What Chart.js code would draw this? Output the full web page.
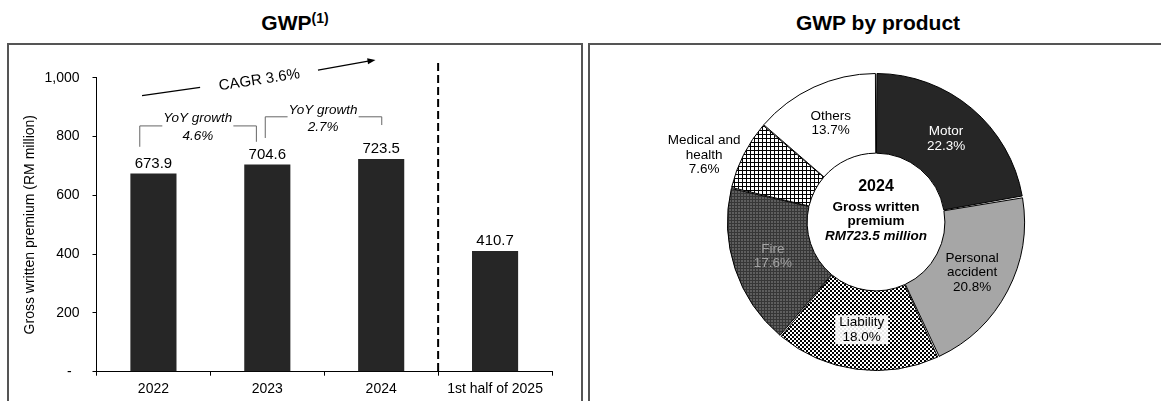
<!DOCTYPE html>
<html>
<head>
<meta charset="utf-8">
<script src="https://cdn.jsdelivr.net/npm/chart.js@4.4.1/dist/chart.umd.min.js"></script>
<style>
  body { margin: 0; background: #fff; width: 1161px; height: 401px; overflow: hidden; position: relative;
         font-family: Arial, "Liberation Sans", sans-serif; }
  .title { position: absolute; top: 11px; height: 24px; line-height: 24px; font-size: 21px; font-weight: bold;
           text-align: center; color: #000; }
  .title span { font-size: 14px; position: relative; top: -7px; }
  .panel { position: absolute; box-sizing: border-box; border: 2px solid #555; }
  canvas { position: absolute; }
</style>
</head>
<body>
<div class="title" style="left:7px; width:576px;">GWP<span>(1)</span></div>
<div class="title" style="left:588px; width:580px;">GWP by product</div>
<div class="panel" style="left:7px; top:43px; width:576px; height:400px;"></div>
<div class="panel" style="left:588px; top:43px; width:600px; height:400px;"></div>
<canvas id="gwp" width="572" height="355" style="left:9px; top:46px;"></canvas>
<canvas id="mix" width="571" height="355" style="left:590px; top:46px;"></canvas>
<script>
// left chart data
const years = ['2022', '2023', '2024', '1st half of 2025'];
const gwp = [673.9, 704.6, 723.5, 410.7];
const yTicks = [0, 200, 400, 600, 800, 1000];
const yoyGrowth = ['4.6%', '2.7%'];
const cagr = 'CAGR 3.6%';

// right chart data
const products = ['Motor', 'Personal accident', 'Liability', 'Fire', 'Medical and health', 'Others'];
const productLines = [['Motor'], ['Personal', 'accident'], ['Liability'], ['Fire'], ['Medical and', 'health'], ['Others']];
const shares = [22.3, 20.8, 18.0, 17.6, 7.6, 13.7];
const centreText = ['2024', 'Gross written', 'premium', 'RM723.5 million'];

const FONT = 'Arial, "Liberation Sans", sans-serif';
Chart.defaults.font.family = FONT;
Chart.defaults.color = '#000';

// ---------- GWP bar chart ----------
const gwpExtras = {
  id: 'gwpExtras',
  afterDraw(chart) {
    const { ctx, scales: { x, y } } = chart;
    const step = x.getPixelForValue(1) - x.getPixelForValue(0);
    const px = i => x.getPixelForValue(0) + i * step;
    const py = v => y.getPixelForValue(v);
    ctx.save();

    // value labels
    ctx.font = '15px ' + FONT;
    ctx.fillStyle = '#000';
    ctx.textAlign = 'center';
    ctx.textBaseline = 'middle';
    chart.getDatasetMeta(0).data.forEach((bar, i) => {
      ctx.fillText(gwp[i].toFixed(1), bar.x, bar.y - 10);
    });

    // dashed divider before the half year
    ctx.strokeStyle = '#000';
    ctx.lineWidth = 2;
    ctx.setLineDash([8, 4]);
    ctx.beginPath();
    ctx.moveTo(px(2.5), py(1050));
    ctx.lineTo(px(2.5), y.bottom);
    ctx.stroke();
    ctx.setLineDash([]);

    // CAGR arrow
    const a = { x: px(-0.1), y: py(939) }, b = { x: px(0.41), y: py(967) };
    const c = { x: px(1.445), y: py(1026) }, d = { x: px(1.95), y: py(1060) };
    const ang = Math.atan2(d.y - a.y, d.x - a.x);
    ctx.lineWidth = 1.2;
    ctx.beginPath();
    ctx.moveTo(a.x, a.y); ctx.lineTo(b.x, b.y);
    ctx.moveTo(c.x, c.y); ctx.lineTo(d.x - 6 * Math.cos(ang), d.y - 6 * Math.sin(ang));
    ctx.stroke();
    ctx.fillStyle = '#000';
    ctx.beginPath();
    ctx.moveTo(d.x, d.y);
    ctx.lineTo(d.x - 8 * Math.cos(ang) + 3 * Math.sin(ang), d.y - 8 * Math.sin(ang) - 3 * Math.cos(ang));
    ctx.lineTo(d.x - 8 * Math.cos(ang) - 3 * Math.sin(ang), d.y - 8 * Math.sin(ang) + 3 * Math.cos(ang));
    ctx.closePath();
    ctx.fill();
    ctx.save();
    ctx.translate(px(0.93), py(992));
    ctx.rotate(ang);
    ctx.font = '15px ' + FONT;
    ctx.fillText(cagr, 0, 0);
    ctx.restore();

    // YoY brackets
    const bracket = (i0, vL, i1, vR, vTop, iText, vT1, vT2, pct) => {
      ctx.font = 'italic 13.5px ' + FONT;
      const tx = px(iText);
      const w = ctx.measureText('YoY growth').width;
      ctx.strokeStyle = '#666';
      ctx.lineWidth = 1;
      ctx.beginPath();
      ctx.moveTo(px(i0), py(vL)); ctx.lineTo(px(i0), py(vTop)); ctx.lineTo(tx - w / 2 - 1, py(vTop));
      ctx.moveTo(tx + w / 2 + 1, py(vTop)); ctx.lineTo(px(i1), py(vTop)); ctx.lineTo(px(i1), py(vR));
      ctx.stroke();
      ctx.fillStyle = '#000';
      ctx.fillText('YoY growth', tx, py(vT1));
      ctx.fillText(pct, tx, py(vT2));
    };
    bracket(-0.12, 765, 0.904, 782, 836, 0.39, 863, 802, yoyGrowth[0]);
    bracket(0.982, 795, 2.005, 839, 867, 1.49, 890, 833, yoyGrowth[1]);

    ctx.restore();
  }
};

new Chart(document.getElementById('gwp'), {
  type: 'bar',
  data: {
    labels: years,
    datasets: [{
      data: gwp,
      backgroundColor: '#262626',
      borderWidth: 0,
      categoryPercentage: 1,
      barPercentage: 0.405
    }]
  },
  options: {
    responsive: false,
    animation: false,
    layout: { padding: { top: 31.7, right: 29, left: 0, bottom: 0 } },
    plugins: { legend: { display: false }, tooltip: { enabled: false } },
    scales: {
      x: {
        grid: { offset: true, drawOnChartArea: false, tickLength: 4, color: '#000' },
        border: { color: '#000' },
        ticks: { font: { size: 14 }, padding: 5, color: '#000' },
        afterFit(scale) { scale.height = 29.3; }
      },
      y: {
        min: 0,
        max: 1000,
        afterBuildTicks(scale) { scale.ticks = yTicks.map(v => ({ value: v })); },
        grid: { drawOnChartArea: false, tickLength: 4, color: '#000' },
        border: { color: '#000' },
        ticks: {
          font: { size: 14 },
          padding: 13,
          color: '#000',
          callback: v => (v === 0 ? '-  ' : v.toLocaleString('en-US'))
        },
        title: {
          display: true,
          text: 'Gross written premium (RM million)',
          font: { size: 14 },
          color: '#000',
          padding: { top: 13, bottom: 0 }
        },
        afterFit(scale) { scale.width = 87.5; }
      }
    }
  },
  plugins: [gwpExtras]
});

// ---------- GWP by product doughnut ----------
function makePattern(size, draw) {
  const c = document.createElement('canvas');
  c.width = c.height = size;
  draw(c.getContext('2d'), size);
  return c.getContext('2d').createPattern(c, 'repeat');
}
const checker = makePattern(4, (g) => {
  g.fillStyle = '#fff'; g.fillRect(0, 0, 4, 4);
  g.fillStyle = '#000'; g.fillRect(0, 0, 2, 2); g.fillRect(2, 2, 2, 2);
});
const darkGrid = makePattern(3, (g) => {
  g.fillStyle = '#5e5e5e'; g.fillRect(0, 0, 3, 3);
  g.fillStyle = '#363636'; g.fillRect(0, 0, 3, 1); g.fillRect(0, 0, 1, 3);
});
const openGrid = makePattern(4, (g) => {
  g.fillStyle = '#fff'; g.fillRect(0, 0, 4, 4);
  g.fillStyle = '#000'; g.fillRect(0, 0, 4, 1); g.fillRect(0, 0, 1, 4);
});

const sliceFills = ['#262626', '#a6a6a6', checker, darkGrid, openGrid, '#fff'];
const labelColours = ['#fff', '#000', '#000', '#a3a3a3', '#000', '#000'];

const mixLabels = {
  id: 'mixLabels',
  afterDraw(chart) {
    const { ctx } = chart;
    const arcs = chart.getDatasetMeta(0).data;
    const cx = arcs[0].x, cy = arcs[0].y;
    ctx.save();
    ctx.textAlign = 'center';
    ctx.textBaseline = 'middle';

    arcs.forEach((arc, i) => {
      let { x, y } = arc.tooltipPosition();
      if (i === 4) {
        const mid = (arc.startAngle + arc.endAngle) / 2 - 0.1;
        const r = arc.outerRadius + 37;
        x = cx + Math.cos(mid) * r;
        y = cy + Math.sin(mid) * r;
      }
      const lines = productLines[i].concat(shares[i].toFixed(1) + '%');
      const lh = 14.5;
      ctx.font = '13.5px ' + FONT;
      if (i === 2) {
        const w = Math.max(...lines.map(t => ctx.measureText(t).width)) + 8;
        ctx.fillStyle = 'rgba(255,255,255,0.9)';
        ctx.fillRect(x - w / 2, y - lines.length * lh / 2, w, lines.length * lh);
      }
      ctx.fillStyle = labelColours[i];
      lines.forEach((t, k) => ctx.fillText(t, x, y + (k - (lines.length - 1) / 2) * lh));
    });

    ctx.fillStyle = '#000';
    ctx.font = 'bold 16px ' + FONT;
    ctx.fillText(centreText[0], cx, cy - 35);
    ctx.font = 'bold 13.5px ' + FONT;
    ctx.fillText(centreText[1], cx, cy - 15);
    ctx.fillText(centreText[2], cx, cy - 0.5);
    ctx.font = 'italic bold 13.5px ' + FONT;
    ctx.fillText(centreText[3], cx, cy + 14.5);
    ctx.restore();
  }
};

new Chart(document.getElementById('mix'), {
  type: 'doughnut',
  data: {
    labels: products,
    datasets: [{
      data: shares,
      backgroundColor: sliceFills,
      borderColor: '#000',
      borderWidth: 1,
      spacing: 2
    }]
  },
  options: {
    responsive: false,
    animation: false,
    cutout: '46%',
    layout: { padding: { left: 136, right: 135, top: 27, bottom: 30 } },
    plugins: { legend: { display: false }, tooltip: { enabled: false } }
  },
  plugins: [mixLabels]
});
</script>
</body>
</html>
